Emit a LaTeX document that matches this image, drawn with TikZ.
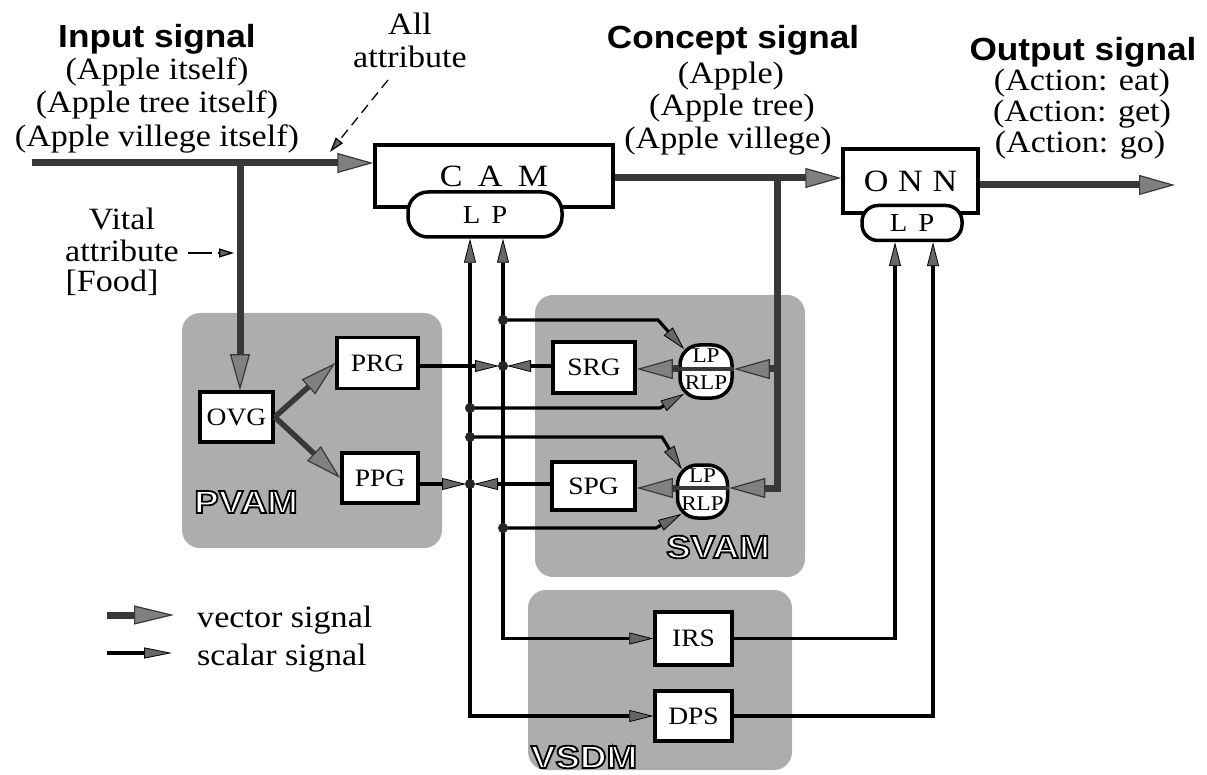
\documentclass[tikz,border=0pt]{standalone}
\usepackage{fontspec}
\setmainfont{Liberation Serif}[FakeStretch=1.1]
\newfontfamily\hsans{Liberation Sans}[FakeStretch=1.1]
\newfontfamily\osans{Liberation Sans}[FakeStretch=1.15]
\usetikzlibrary{arrows.meta,calc}
\tikzset{
 regionbox/.style={fill=black!32, rounded corners=18pt},
 blk/.style={draw=black, line width=3.5pt, fill=white, inner sep=0pt, font=\fontsize{25}{28}\selectfont},
 lpbox/.style={draw=black, line width=3.5pt, fill=white, inner sep=0pt},
 vec/.style={line width=7pt, draw=black!78, -{Triangle[length=36pt,width=20pt,fill=black!50,line width=1.2pt]}},
 sca/.style={line width=3.2pt, draw=black, -{Triangle[length=24pt,width=12pt,fill=black!60,line width=0.8pt]}},
 jdot/.style={circle, fill=black!85, minimum size=10pt, inner sep=0pt},
 captxt/.style={font=\fontsize{31}{36}\selectfont, anchor=base, inner sep=0pt},
 hdtxt/.style={font=\hsans\bfseries\fontsize{32}{36}\selectfont, anchor=base, inner sep=0pt},
 smalltxt/.style={font=\fontsize{21}{24}\selectfont, inner sep=0pt},
 dsh/.style={line width=1.3pt, draw=black, dash pattern=on 10pt off 6pt, -{Triangle[length=15pt,width=9pt,fill=black!60]}},
 olbl/.style={font=\osans\bfseries\fontsize{32}{36}\selectfont, inner sep=0pt, text=white},
}
\newcommand\outlinetxt[1]{\special{pdf:literal direct 2 Tr 1.8 w 0 G}#1\special{pdf:literal direct 0 Tr}}
\begin{document}
\begin{tikzpicture}[x=1pt,y=-1pt]
\useasboundingbox (0,0) rectangle (1207,775);
% shaded regions
\fill[regionbox] (182,313) rectangle (442,548);
\fill[regionbox] (535,295) rectangle (805,577);
\fill[regionbox] (528,590) rectangle (792,770);
% blocks
\node[blk, minimum width=238pt, minimum height=62pt, font=\fontsize{31}{34}\selectfont\addfontfeature{LetterSpace=22}] (CAM) at (494,176) {C A M};
\node[lpbox, minimum width=154pt, minimum height=45pt, rounded corners=20pt, font=\fontsize{26}{28}\selectfont\addfontfeature{LetterSpace=15}] (CAMLP) at (485,214.5) {L P};
\node[blk, minimum width=135pt, minimum height=64pt, font=\fontsize{31}{34}\selectfont\addfontfeature{LetterSpace=4}] (ONN) at (910.5,181) {O N N};
\node[lpbox, minimum width=100pt, minimum height=35pt, rounded corners=16pt, font=\fontsize{26}{28}\selectfont\addfontfeature{LetterSpace=15}] (ONNLP) at (912,223) {L P};
\node[blk, minimum width=73pt, minimum height=50pt] (OVG) at (236.5,417) {OVG};
\node[blk, minimum width=81pt, minimum height=51pt] (PRG) at (377.5,363) {PRG};
\node[blk, minimum width=76pt, minimum height=50pt] (PPG) at (380,478) {PPG};
\node[blk, minimum width=82pt, minimum height=51pt] (SRG) at (594,367.5) {SRG};
\node[blk, minimum width=83pt, minimum height=48pt] (SPG) at (593.5,486) {SPG};
\node[blk, minimum width=77pt, minimum height=53pt] (IRS) at (693.5,638.5) {IRS};
\node[blk, minimum width=77pt, minimum height=50pt] (DPS) at (693.5,716) {DPS};
\node[lpbox, minimum width=52pt, minimum height=53pt, rounded corners=20pt] (LR1) at (706,371.5) {};
\node[lpbox, minimum width=50pt, minimum height=53pt, rounded corners=20pt] (LR2) at (702.5,491.5) {};
\node[smalltxt] (LR1a) at (706,356) {LP};
\node[smalltxt] (LR1b) at (706,383) {RLP};
\node[smalltxt] (LR2a) at (702.5,476) {LP};
\node[smalltxt] (LR2b) at (702.5,504) {RLP};
% coordinates
\coordinate (In0) at (32,163);
\coordinate (In1) at (240,163);
\coordinate (C1) at (777,178);
\coordinate (R1) at (777,369);
\coordinate (R2) at (777,488);
\coordinate (Out) at (1175,185);
\coordinate (J1) at (503,366);
\coordinate (J2) at (470,484);
\coordinate (D1) at (503,320);
\coordinate (D2) at (470,408);
\coordinate (D3) at (470,437);
\coordinate (D4) at (503,528);
\coordinate (P1) at (895,0);
\coordinate (P2) at (933,0);
% vector signals
\draw[vec] (In0) -- (In0 -| CAM.west);
\draw[vec] (In1) -- (In1 |- OVG.north);
\draw[vec] (C1 -| CAM.east) -- (C1 -| ONN.west);
\draw[vec] (Out -| ONN.east) -- (Out);
\draw[vec] (C1) -- (R2) -- (R2 -| LR2.east);
\draw[vec] (R1) -- (R1 -| LR1.east);
\draw[vec] (R1 -| LR1.west) -- (R1 -| SRG.east);
\draw[vec] (R2 -| LR2.west) -- (R2 -| SPG.east);
\draw[line width=4pt, black!78] (R1 -| LR1.west) -- (R1 -| LR1.east);
\draw[line width=4pt, black!78] (R2 -| LR2.west) -- (R2 -| LR2.east);
\draw[vec, line width=5.5pt] (OVG.east) -- (PRG.west);
\draw[vec, line width=5.5pt] (OVG.east) -- (PPG.west);
% scalar signals
\draw[sca, shorten >=4pt] (PRG.east |- J1) -- (J1);
\draw[sca, shorten >=4pt] (SRG.west |- J1) -- (J1);
\draw[sca, shorten >=4pt] (PPG.east |- J2) -- (J2);
\draw[sca, shorten >=4pt] (SPG.west |- J2) -- (J2);
\draw[sca] (J1) -- (J1 |- CAMLP.south);
\draw[sca] (J2) -- (J2 |- CAMLP.south);
\draw[sca] (J1) -- (J1 |- IRS.west) -- (IRS.west);
\draw[sca] (J2) -- (J2 |- DPS.west) -- (DPS.west);
\draw[sca] (D1) -- ++(155,0) -- ($(LR1.north west)+(6,6)$);
\draw[sca] (D2) -- ++(190,0) -- ($(LR1.south west)+(6,-6)$);
\draw[sca] (D3) -- ++(192,0) -- ($(LR2.north west)+(6,6)$);
\draw[sca] (D4) -- ++(153,0) -- ($(LR2.south west)+(6,-6)$);
\draw[sca] (IRS.east) -- (IRS.east -| P1) -- (P1 |- ONNLP.south);
\draw[sca] (DPS.east) -- (DPS.east -| P2) -- (P2 |- ONNLP.south);
% junction dots
\node[jdot] (dj1) at (J1) {};
\node[jdot] (dj2) at (J2) {};
\node[jdot] (dd1) at (D1) {};
\node[jdot] (dd2) at (D2) {};
\node[jdot] (dd3) at (D3) {};
\node[jdot] (dd4) at (D4) {};
% texts
\node[hdtxt] (inH) at (157,48) {Input signal};
\node[captxt] (in1) at (157,80) {(Apple itself)};
\node[captxt] (in2) at (157,113) {(Apple tree itself)};
\node[captxt] (in3) at (157,147) {(Apple villege itself)};
\node[captxt] (all1) at (410,35) {All};
\node[captxt] (all2) at (410,68) {attribute};
\coordinate (da0) at (388,80);
\coordinate (da1) at (330,152);
\draw[dsh] (da0) -- (da1);
\node[hdtxt] (coH) at (733,49) {Concept signal};
\node[captxt] (co1) at (731,84) {(Apple)};
\node[captxt] (co2) at (732,116) {(Apple tree)};
\node[captxt] (co3) at (728,149) {(Apple villege)};
\node[hdtxt] (ouH) at (1083,61) {Output signal};
\node[captxt] (ou1) at (1082,91) {(Action: eat)};
\node[captxt] (ou2) at (1082,122) {(Action: get)};
\node[captxt] (ou3) at (1080,153) {(Action: go)};
\node[captxt] (va) at (122,230) {Vital};
\node[captxt] (vb) at (122,262) {attribute};
\node[captxt] (vc) at (112,292) {[Food]};
\coordinate (va0) at (188,253);
\coordinate (va1) at (234,253);
\draw[dsh, dash pattern=on 24pt off 6pt] (va0) -- (va1);
% legend
\coordinate (lg1) at (107,615);
\coordinate (lg2) at (174,615);
\coordinate (lg3) at (107,653);
\coordinate (lg4) at (172,653);
\draw[vec, -{Triangle[length=40pt,width=19pt,fill=black!50,line width=1.2pt]}] (lg1) -- (lg2);
\draw[sca, -{Triangle[length=28pt,width=11pt,fill=black!60,line width=0.8pt]}] (lg3) -- (lg4);
\node[captxt, anchor=base west] (lgv) at (197,627) {vector signal};
\node[captxt, anchor=base west] (lgs) at (197,665) {scalar signal};
% outlined region labels
\node[olbl] (pvam) at (246,502) {\outlinetxt{PVAM}};
\node[olbl] (svam) at (718,547) {\outlinetxt{SVAM}};
\node[olbl] (vsdm) at (584,757) {\outlinetxt{VSDM}};
\end{tikzpicture}
\end{document}
